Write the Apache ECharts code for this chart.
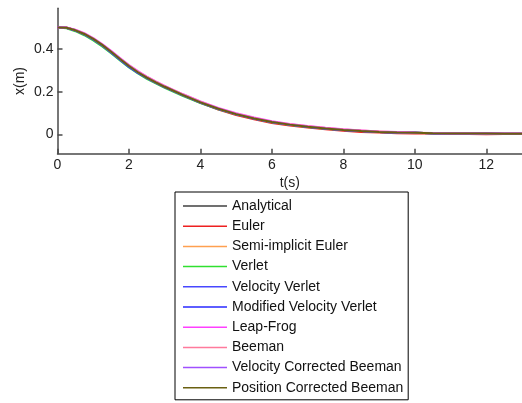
<!DOCTYPE html>
<html>
<head>
<meta charset="utf-8">
<title>x(t)</title>
<script src="https://cdn.jsdelivr.net/npm/echarts@6/dist/echarts.min.js"></script>
<style>
  html, body { margin: 0; padding: 0; background: #fff; }
  #chart { width: 522px; height: 403px; }
</style>
</head>
<body>
<div id="chart"></div>
<script>
// Sample times (s): finer steps over the first 3 s where the curve bends most
const times = [0, 0.25, 0.5, 0.75, 1, 1.25, 1.5, 1.75, 2, 2.25, 2.5, 2.75, 3,
  3.5, 4, 4.5, 5, 5.5, 6, 6.5, 7, 7.5, 8, 8.5, 9, 9.5, 10, 10.5, 11, 11.5, 12, 12.5, 13];

// Position x(m) for each integration scheme
const analytical   = [0.500, 0.499, 0.487, 0.470, 0.447, 0.419, 0.387, 0.353, 0.320, 0.291, 0.266, 0.244, 0.223,
  0.185, 0.150, 0.120, 0.095, 0.075, 0.058, 0.046, 0.036, 0.028, 0.021, 0.016, 0.012, 0.009, 0.0075, 0.006, 0.005, 0.0045, 0.004, 0.0035, 0.003];
const euler        = [0.500, 0.499, 0.487, 0.469, 0.446, 0.418, 0.387, 0.353, 0.320, 0.291, 0.266, 0.244, 0.223,
  0.184, 0.148, 0.117, 0.091, 0.071, 0.054, 0.042, 0.032, 0.024, 0.017, 0.012, 0.009, 0.006, 0.004, 0.004, 0.003, 0.002, 0.0005, 0.002, 0.003];
const semiImplicit = [0.500, 0.499, 0.487, 0.470, 0.446, 0.418, 0.386, 0.352, 0.321, 0.291, 0.266, 0.244, 0.223,
  0.185, 0.150, 0.120, 0.095, 0.075, 0.058, 0.046, 0.036, 0.028, 0.021, 0.016, 0.012, 0.009, 0.0075, 0.006, 0.005, 0.0045, 0.004, 0.0035, 0.003];
const verlet       = [0.500, 0.497, 0.483, 0.464, 0.440, 0.412, 0.380, 0.346, 0.313, 0.285, 0.260, 0.239, 0.218,
  0.181, 0.147, 0.118, 0.094, 0.074, 0.057, 0.045, 0.035, 0.027, 0.021, 0.016, 0.012, 0.009, 0.0075, 0.006, 0.005, 0.0045, 0.004, 0.0035, 0.003];
const velVerlet    = [0.500, 0.499, 0.486, 0.468, 0.445, 0.416, 0.383, 0.349, 0.316, 0.288, 0.264, 0.242, 0.222,
  0.184, 0.149, 0.119, 0.095, 0.075, 0.058, 0.046, 0.036, 0.028, 0.021, 0.016, 0.012, 0.009, 0.0075, 0.006, 0.005, 0.0045, 0.004, 0.0035, 0.003];
const modVelVerlet = [0.500, 0.499, 0.487, 0.469, 0.446, 0.418, 0.385, 0.351, 0.318, 0.289, 0.265, 0.243, 0.222,
  0.185, 0.150, 0.120, 0.095, 0.075, 0.058, 0.046, 0.036, 0.028, 0.021, 0.016, 0.012, 0.009, 0.0075, 0.006, 0.005, 0.0045, 0.004, 0.0035, 0.003];
const leapFrog     = [0.500, 0.500, 0.490, 0.474, 0.451, 0.423, 0.391, 0.357, 0.325, 0.296, 0.271, 0.248, 0.227,
  0.189, 0.154, 0.124, 0.099, 0.079, 0.062, 0.049, 0.039, 0.031, 0.024, 0.019, 0.014, 0.011, 0.0085, 0.007, 0.005, 0.0045, 0.004, 0.0035, 0.003];
const beeman       = [0.500, 0.500, 0.489, 0.472, 0.449, 0.421, 0.389, 0.355, 0.323, 0.294, 0.269, 0.247, 0.226,
  0.188, 0.153, 0.122, 0.097, 0.077, 0.060, 0.048, 0.038, 0.030, 0.023, 0.018, 0.014, 0.010, 0.0085, 0.007, 0.006, 0.0055, 0.005, 0.0045, 0.004];
const velCorrBeeman= [0.500, 0.499, 0.487, 0.470, 0.447, 0.419, 0.387, 0.353, 0.320, 0.291, 0.266, 0.244, 0.223,
  0.185, 0.150, 0.120, 0.095, 0.075, 0.058, 0.046, 0.036, 0.028, 0.021, 0.016, 0.012, 0.009, 0.0075, 0.006, 0.005, 0.0045, 0.004, 0.0035, 0.003];
const posCorrBeeman= [0.500, 0.499, 0.487, 0.470, 0.447, 0.419, 0.387, 0.353, 0.320, 0.291, 0.266, 0.244, 0.223,
  0.185, 0.150, 0.120, 0.095, 0.075, 0.058, 0.046, 0.036, 0.028, 0.021, 0.016, 0.012, 0.009, 0.0075, 0.006, 0.005, 0.0045, 0.004, 0.0035, 0.003];

const seriesNames = ['Analytical', 'Euler', 'Semi-implicit Euler', 'Verlet', 'Velocity Verlet',
  'Modified Velocity Verlet', 'Leap-Frog', 'Beeman', 'Velocity Corrected Beeman', 'Position Corrected Beeman'];
const seriesValues = [analytical, euler, semiImplicit, verlet, velVerlet,
  modVelVerlet, leapFrog, beeman, velCorrBeeman, posCorrBeeman];
const seriesColors = ['#404040', '#ee2020', '#ffa050', '#30e030', '#4848ff',
  '#2828ff', '#ff40ff', '#ff7a9c', '#a050ff', '#6a6010'];

// Axis tick labels
const xTicks = [0, 2, 4, 6, 8, 10, 12];
const yTicks = [0, 0.2, 0.4];

const FONT = 'Liberation Sans, Arial, sans-serif';
const axisColor = '#4a4a4a';

const chart = echarts.init(document.getElementById('chart'), null, { renderer: 'canvas' });

chart.setOption({
  animation: false,
  backgroundColor: '#ffffff',
  grid: { left: 57.5, top: 8.3, right: 0, bottom: 249.3 },
  xAxis: {
    type: 'value',
    min: 0,
    max: 13,
    name: 't(s)',
    nameLocation: 'middle',
    nameGap: 22,
    nameMoveOverlap: false,
    nameTextStyle: { fontFamily: FONT, fontSize: 14, color: '#222' },
    axisLine: { onZero: false, lineStyle: { color: axisColor, width: 1.5 } },
    axisTick: { inside: true, length: 5, customValues: xTicks, lineStyle: { color: axisColor, width: 1.5 } },
    axisLabel: { customValues: xTicks, fontFamily: FONT, fontSize: 14, color: '#222', margin: 4 },
    splitLine: { show: false }
  },
  yAxis: {
    type: 'value',
    min: -0.09,
    max: 0.59,
    name: 'x(m)',
    nameLocation: 'middle',
    nameGap: 30,
    nameMoveOverlap: false,
    nameRotate: 90,
    nameTextStyle: { fontFamily: FONT, fontSize: 14, color: '#222' },
    axisLine: { show: true, onZero: false, lineStyle: { color: axisColor, width: 1.5 } },
    axisTick: { show: true, inside: true, length: 5, customValues: yTicks, lineStyle: { color: axisColor, width: 1.5 } },
    axisLabel: { customValues: yTicks, fontFamily: FONT, fontSize: 14, color: '#222', margin: 4 },
    splitLine: { show: false }
  },
  legend: {
    orient: 'vertical',
    left: 175,
    top: 192,
    padding: [7, 5, 5, 8],
    itemGap: 6.2,
    itemWidth: 44,
    itemHeight: 1.5,
    icon: 'rect',
    borderColor: '#000',
    borderWidth: 1,
    backgroundColor: '#fff',
    textStyle: { fontFamily: FONT, fontSize: 14, lineHeight: 14, color: '#111', padding: [0, 0, 0, 0] },
    data: seriesNames
  },
  series: seriesNames.map((name, i) => ({
    name,
    type: 'line',
    showSymbol: false,
    symbol: 'none',
    color: seriesColors[i],
    lineStyle: { width: 2, color: seriesColors[i] },
    data: times.map((t, k) => [t, seriesValues[i][k]])
  }))
});
</script>
</body>
</html>
